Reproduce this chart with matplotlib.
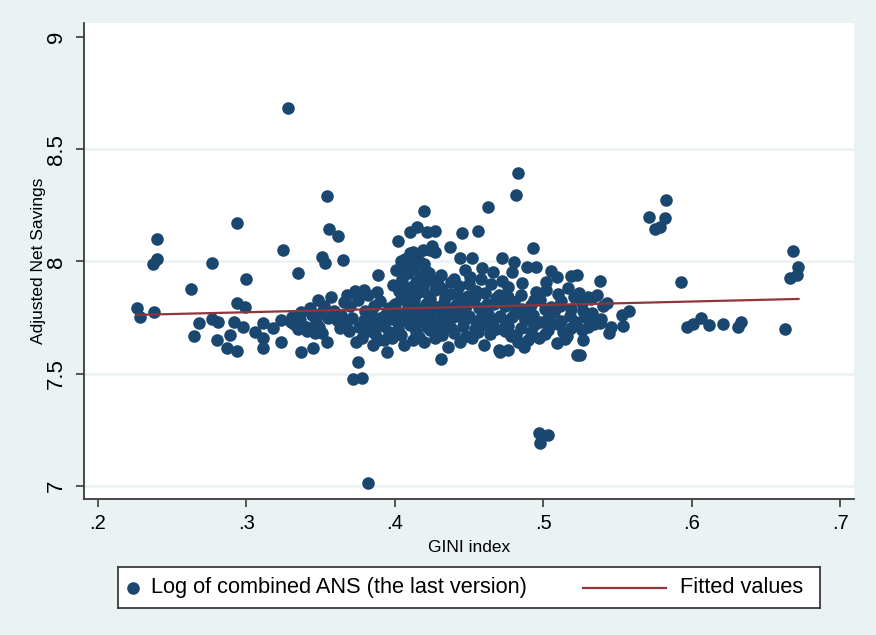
import numpy as np
import matplotlib.pyplot as plt

gini_left = [0.226, 0.228, 0.238, 0.237, 0.240, 0.240, 0.263, 0.265, 0.268, 0.277,
             0.277, 0.281, 0.280, 0.287, 0.289, 0.292, 0.294, 0.294, 0.294, 0.299,
             0.298, 0.300, 0.306, 0.311, 0.311, 0.311, 0.318, 0.323, 0.323, 0.325,
             0.328, 0.331, 0.335, 0.337, 0.337, 0.343, 0.345, 0.348, 0.351, 0.351,
             0.353, 0.354, 0.354, 0.356, 0.362, 0.365, 0.361, 0.363, 0.375, 0.372,
             0.378, 0.382]
ans_left = [7.793, 7.753, 7.775, 7.989, 8.011, 8.100, 7.877, 7.668, 7.726, 7.993,
            7.744, 7.730, 7.650, 7.615, 7.673, 7.730, 7.601, 8.171, 7.815, 7.797,
            7.708, 7.922, 7.686, 7.726, 7.659, 7.615, 7.704, 7.641, 7.739, 8.051,
            8.684, 7.753, 7.949, 7.775, 7.597, 7.793, 7.615, 7.829, 7.682, 8.020,
            7.993, 7.641, 8.292, 8.145, 8.114, 8.007, 7.739, 7.704, 7.552, 7.477,
            7.481, 7.013]

gini_mid = [0.332, 0.336, 0.340, 0.344, 0.347, 0.350, 0.352, 0.349, 0.341, 0.346,
            0.335, 0.330, 0.357, 0.359, 0.355, 0.366, 0.368, 0.370, 0.364, 0.367,
            0.369, 0.373, 0.375, 0.371, 0.376, 0.378, 0.374, 0.380, 0.382, 0.379]
ans_mid = [7.72, 7.74, 7.71, 7.76, 7.73, 7.77, 7.80, 7.71, 7.69, 7.68,
           7.70, 7.73, 7.84, 7.78, 7.75, 7.82, 7.85, 7.80, 7.76, 7.72,
           7.69, 7.87, 7.83, 7.75, 7.71, 7.66, 7.64, 7.78, 7.85, 7.74]

gini_core = [
    # 7.60 - 7.66
    0.385, 0.395, 0.406, 0.412, 0.420, 0.427, 0.431, 0.436, 0.444, 0.452, 0.460,
    0.470, 0.476, 0.471, 0.483, 0.490, 0.509, 0.515, 0.523, 0.527, 0.398, 0.389,
    # 7.66 - 7.72
    0.383, 0.387, 0.393, 0.396, 0.402, 0.404, 0.410, 0.414, 0.416, 0.422,
    0.424, 0.430, 0.432, 0.438, 0.440, 0.446, 0.448, 0.454, 0.456, 0.462,
    0.464, 0.468, 0.474, 0.476, 0.482, 0.485, 0.492, 0.494, 0.501, 0.503,
    0.510, 0.513, 0.519, 0.526, 0.530, 0.538, 0.546, 0.554, 0.544,
    # 7.72 - 7.78
    0.385, 0.391, 0.394, 0.398, 0.403, 0.408, 0.411, 0.415, 0.418, 0.423,
    0.426, 0.431, 0.434, 0.439, 0.442, 0.447, 0.450, 0.455, 0.458, 0.463,
    0.466, 0.471, 0.474, 0.479, 0.484, 0.488, 0.493, 0.498, 0.503, 0.507,
    0.512, 0.518, 0.522, 0.528, 0.533, 0.539, 0.553, 0.558,
    # 7.78 - 7.84
    0.386, 0.390, 0.396, 0.400, 0.404, 0.409, 0.412, 0.416, 0.421, 0.424,
    0.428, 0.433, 0.436, 0.441, 0.444, 0.448, 0.453, 0.457, 0.462, 0.468,
    0.474, 0.480, 0.486, 0.492, 0.498, 0.505, 0.512, 0.519, 0.526, 0.532, 0.543,
    # 7.84 - 7.90
    0.388, 0.379, 0.399, 0.403, 0.407, 0.411, 0.415, 0.419, 0.423, 0.427,
    0.432, 0.437, 0.443, 0.449, 0.455, 0.476, 0.486, 0.495, 0.470, 0.502,
    0.510, 0.517, 0.524, 0.530, 0.536,
    # 7.90 - 8.00
    0.389, 0.405, 0.409, 0.413, 0.417, 0.421, 0.426, 0.431, 0.451, 0.459,
    0.466, 0.479, 0.489, 0.495, 0.505, 0.509, 0.519, 0.523, 0.538, 0.480,
    0.411, 0.440, 0.447, 0.472, 0.502,
    # above 8
    0.410, 0.407, 0.424, 0.425, 0.437, 0.427, 0.444, 0.452, 0.472, 0.402,
    0.410, 0.415, 0.422, 0.427, 0.445, 0.456, 0.420, 0.463, 0.482, 0.483,
    0.493, 0.414,
]
ans_core = [
    7.630, 7.597, 7.628, 7.650, 7.640, 7.660, 7.566, 7.619, 7.640, 7.660, 7.630,
    7.606, 7.606, 7.597, 7.640, 7.650, 7.637, 7.655, 7.584, 7.650, 7.660, 7.650,
    7.702, 7.676, 7.713, 7.688, 7.698, 7.671, 7.716, 7.684, 7.665, 7.707,
    7.693, 7.718, 7.674, 7.705, 7.682, 7.714, 7.668, 7.697, 7.686, 7.719,
    7.677, 7.701, 7.690, 7.712, 7.672, 7.703, 7.685, 7.717, 7.679, 7.696,
    7.721, 7.688, 7.702, 7.695, 7.709, 7.724, 7.708, 7.713, 7.681,
    7.748, 7.731, 7.764, 7.742, 7.771, 7.737, 7.758, 7.727, 7.753, 7.774,
    7.739, 7.762, 7.728, 7.751, 7.776, 7.743, 7.759, 7.732, 7.747, 7.768,
    7.741, 7.757, 7.734, 7.752, 7.772, 7.738, 7.763, 7.729, 7.749, 7.775,
    7.736, 7.758, 7.731, 7.754, 7.769, 7.742, 7.762, 7.780,
    7.802, 7.823, 7.791, 7.812, 7.834, 7.798, 7.821, 7.786, 7.809, 7.832,
    7.797, 7.818, 7.788, 7.806, 7.829, 7.801, 7.824, 7.792, 7.811, 7.835,
    7.803, 7.819, 7.789, 7.808, 7.828, 7.796, 7.822, 7.787, 7.813, 7.831, 7.815,
    7.862, 7.873, 7.895, 7.868, 7.851, 7.884, 7.858, 7.892, 7.847, 7.871,
    7.879, 7.856, 7.889, 7.848, 7.867, 7.886, 7.904, 7.864, 7.852, 7.874,
    7.853, 7.881, 7.861, 7.842, 7.849,
    7.940, 7.921, 7.948, 7.968, 7.932, 7.957, 7.912, 7.938, 7.930, 7.971,
    7.953, 7.953, 7.976, 7.976, 7.958, 7.931, 7.935, 7.940, 7.913, 7.998,
    7.990, 7.921, 7.962, 7.914, 7.908,
    8.038, 8.010, 8.051, 8.070, 8.065, 8.040, 8.016, 8.016, 8.016, 8.091,
    8.131, 8.154, 8.131, 8.136, 8.127, 8.136, 8.225, 8.243, 8.296, 8.394,
    8.060, 8.020,
]

# extra points where the core cloud is solid
gini_fill = [0.401, 0.404, 0.406, 0.408, 0.412, 0.414, 0.416, 0.418, 0.420, 0.422,
             0.419, 0.405, 0.413, 0.417, 0.409, 0.402, 0.423,
             0.429, 0.434, 0.438, 0.442, 0.446, 0.450, 0.454, 0.458, 0.461, 0.465,
             0.467, 0.435, 0.445, 0.459, 0.431,
             0.476, 0.481, 0.485, 0.490, 0.494, 0.497, 0.501, 0.506, 0.511, 0.516,
             0.521, 0.527, 0.534, 0.540, 0.487, 0.478,
             0.384, 0.390, 0.393, 0.399, 0.381, 0.386]
ans_fill = [7.96, 8.00, 7.88, 7.97, 8.04, 7.91, 8.00, 7.87, 7.99, 7.92,
            8.05, 7.84, 7.83, 7.78, 7.76, 7.73, 7.95,
            7.90, 7.84, 7.91, 7.86, 7.80, 7.90, 7.84, 7.92, 7.86, 7.90,
            7.81, 7.77, 7.75, 7.72, 7.70,
            7.84, 7.79, 7.85, 7.76, 7.83, 7.66, 7.79, 7.72, 7.80, 7.67,
            7.84, 7.78, 7.72, 7.80, 7.62, 7.67,
            7.78, 7.75, 7.65, 7.80, 7.69, 7.72]

gini_right = [0.571, 0.582, 0.583, 0.575, 0.579, 0.668, 0.672, 0.666, 0.671, 0.593,
              0.597, 0.601, 0.606, 0.612, 0.621, 0.631, 0.633, 0.663, 0.525,
              0.497, 0.503, 0.498]
ans_right = [8.198, 8.194, 8.274, 8.145, 8.154, 8.047, 7.976, 7.927, 7.940, 7.909,
             7.708, 7.722, 7.748, 7.717, 7.722, 7.708, 7.730, 7.699, 7.584,
             7.236, 7.227, 7.190]

# fitted line end points as drawn
fit_gini = [0.226, 0.672]
fit_ans = [7.762, 7.833]

x_ticks = [0.2, 0.3, 0.4, 0.5, 0.6, 0.7]
x_labels = [".2", ".3", ".4", ".5", ".6", ".7"]
y_ticks = [7, 7.5, 8, 8.5, 9]
y_labels = ["7", "7.5", "8", "8.5", "9"]

NAVY = "#1a476f"
MAROON = "#90353b"
BG = "#eaf2f3"
AXIS = "#3a3a3a"

plt.rcParams["font.family"] = ["Liberation Sans", "DejaVu Sans"]

gini = np.concatenate([gini_left, gini_mid, gini_core, gini_fill, gini_right])
log_ans = np.concatenate([ans_left, ans_mid, ans_core, ans_fill, ans_right])

fig = plt.figure(figsize=(8.76, 6.35), dpi=100, facecolor=BG)
ax = fig.add_axes([84 / 876, 1 - 499 / 635, 770 / 876, 476 / 635])
ax.set_facecolor("white")

ax.scatter(gini, log_ans, s=82, color=NAVY, linewidths=0, zorder=3)
ax.plot(fit_gini, fit_ans, color=MAROON, lw=1.6, zorder=4)

ax.set_xlim(0.1906, 0.7094)
ax.set_ylim(6.942, 9.062)
ax.set_xticks(x_ticks)
ax.set_xticklabels(x_labels, fontsize=14.5)
ax.set_yticks(y_ticks)
ax.set_yticklabels(y_labels, fontsize=16, rotation=90, va="center")
ax.tick_params(length=6, width=1.2, color=AXIS)
ax.tick_params(axis="x", pad=5)
ax.tick_params(axis="y", pad=6)

ax.set_axisbelow(True)
ax.yaxis.grid(True, color=BG, lw=1.8)
ax.yaxis.get_gridlines()[-1].set_visible(False)

for side in ["top", "right"]:
    ax.spines[side].set_visible(False)
for side in ["left", "bottom"]:
    ax.spines[side].set_color(AXIS)
    ax.spines[side].set_linewidth(1.3)

ax.set_xlabel("GINI index", fontsize=12.5, labelpad=5)
ax.set_ylabel("Adjusted Net Savings", fontsize=12.5, labelpad=0)

# legend box below the plot
lax = fig.add_axes([118 / 876, 1 - 608 / 635, 702 / 876, 41 / 635])
lax.set_xlim(0, 702)
lax.set_ylim(0, 41)
lax.set_xticks([])
lax.set_yticks([])
lax.set_facecolor("white")
for sp in lax.spines.values():
    sp.set_color(AXIS)
    sp.set_linewidth(1.3)
lax.scatter([15], [20.5], s=82, color=NAVY, linewidths=0)
lax.text(33, 20.5, "Log of combined ANS (the last version)", fontsize=15.7, va="center")
lax.plot([465, 548], [20.5, 20.5], color=MAROON, lw=1.6)
lax.text(562, 20.5, "Fitted values", fontsize=15.7, va="center")

fig.savefig("out.png", dpi=100, facecolor=BG)
